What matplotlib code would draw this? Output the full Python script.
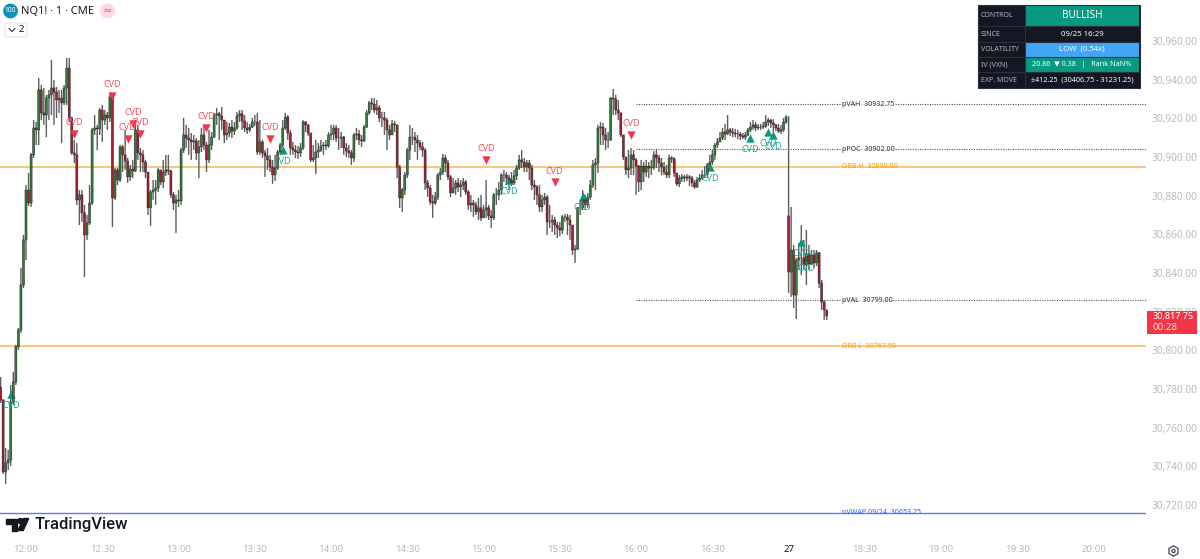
import matplotlib
matplotlib.use('Agg')
import matplotlib.pyplot as plt
from matplotlib.patches import Rectangle, Circle, Polygon, RegularPolygon, FancyBboxPatch
import numpy as np

plt.rcParams['font.family'] = ['Noto Sans', 'DejaVu Sans']

# one minute bars, first bar is 11:50, session break between index 299 and 300
first_bar = -10
first_open = 30781.0
session_open = 30869.5

closes = [
    30774.3, 30737.1, 30741.8, 30743.3, 30773.3, 30783.6, 30801.8, 30810.5, 30833.8, 30857.1,
    30882.9, 30876.2, 30901.1, 30915.0, 30914.0, 30934.7, 30922.8, 30921.7, 30930.5, 30932.1,
    30935.7, 30933.6, 30929.5, 30930.5, 30928.0, 30935.7, 30946.0, 30920.2, 30902.1, 30901.1,
    30877.8, 30880.4, 30871.1, 30859.7, 30865.9, 30876.2, 30914.0, 30915.0, 30914.5, 30924.3,
    30919.1, 30921.7, 30920.2, 30931.0, 30878.8, 30893.3, 30888.1, 30905.2, 30901.1, 30897.9,
    30889.7, 30893.8, 30892.8, 30914.0, 30902.1, 30901.1, 30897.4, 30892.2, 30873.7, 30881.9,
    30882.9, 30884.0, 30893.3, 30887.1, 30892.2, 30893.3, 30892.8, 30880.4, 30876.2, 30877.8,
    30877.3, 30903.6, 30911.4, 30909.8, 30908.8, 30907.8, 30908.3, 30902.1, 30905.2, 30911.4,
    30906.2, 30898.5, 30906.2, 30910.3, 30921.7, 30922.3, 30921.2, 30919.1, 30911.4, 30912.4,
    30915.5, 30913.4, 30915.0, 30921.2, 30922.3, 30918.6, 30915.0, 30914.0, 30915.5, 30918.1,
    30918.1, 30902.6, 30907.8, 30902.1, 30900.5, 30898.5, 30894.8, 30890.7, 30894.3, 30902.6,
    30906.2, 30915.0, 30920.7, 30912.4, 30904.7, 30903.6, 30902.6, 30902.1, 30904.7, 30918.1,
    30916.6, 30912.4, 30898.5, 30899.5, 30902.6, 30903.6, 30905.7, 30906.2, 30905.7, 30911.4,
    30911.9, 30915.0, 30909.8, 30909.8, 30910.3, 30904.7, 30903.1, 30902.1, 30899.5, 30911.4,
    30911.9, 30908.8, 30908.3, 30915.5, 30922.8, 30928.0, 30927.4, 30924.3, 30925.4, 30920.2,
    30920.2, 30919.1, 30914.0, 30911.4, 30917.1, 30916.6, 30894.8, 30878.8, 30882.9, 30890.7,
    30903.6, 30910.3, 30910.3, 30908.8, 30907.2, 30905.2, 30903.6, 30886.6, 30884.0, 30876.8,
    30876.2, 30879.3, 30890.7, 30892.2, 30899.5, 30896.9, 30889.7, 30881.4, 30884.0, 30886.6,
    30884.5, 30885.5, 30887.1, 30881.9, 30875.2, 30876.2, 30875.2, 30871.6, 30873.7, 30868.5,
    30872.6, 30873.7, 30869.5, 30868.5, 30880.4, 30880.4, 30882.9, 30890.7, 30890.7, 30889.1,
    30888.1, 30886.6, 30890.2, 30894.3, 30898.5, 30897.4, 30894.8, 30896.9, 30894.3, 30885.5,
    30884.5, 30880.4, 30874.2, 30877.8, 30879.3, 30866.4, 30866.4, 30867.4, 30864.8, 30863.3,
    30862.2, 30869.0, 30869.0, 30867.4, 30864.8, 30851.9, 30852.4, 30873.7, 30873.7, 30877.8,
    30875.2, 30879.3, 30885.5, 30895.9, 30896.9, 30915.0, 30915.5, 30911.4, 30908.8, 30908.8,
    30930.5, 30930.0, 30924.3, 30922.8, 30911.4, 30900.0, 30893.3, 30894.3, 30901.1, 30898.5,
    30895.3, 30887.1, 30895.3, 30892.2, 30895.3, 30894.3, 30894.8, 30901.1, 30899.5, 30896.9,
    30894.8, 30892.2, 30890.7, 30899.5, 30899.0, 30891.7, 30886.1, 30889.1, 30889.7, 30889.1,
    30889.7, 30889.1, 30886.6, 30884.5, 30888.1, 30889.1, 30890.7, 30890.7, 30895.9, 30897.4,
    30901.1, 30906.2, 30907.8, 30909.8, 30912.9, 30911.9, 30914.0, 30912.9, 30912.4, 30911.9,
    30911.9, 30910.9, 30910.3, 30911.4, 30914.0, 30915.5, 30916.6, 30915.0, 30915.5, 30915.5,
    30916.0, 30918.1, 30919.1, 30917.6, 30916.6, 30915.0, 30913.4, 30914.0, 30918.1, 30920.7,
    30840.5, 30851.9, 30828.6, 30846.7, 30847.8, 30847.8, 30844.1, 30849.9, 30844.7, 30849.3,
    30845.2, 30850.4, 30834.8, 30825.0, 30820.9, 30817.75,
]

highs = [
    30786.2, 30774.8, 30749.5, 30748.5, 30782.1, 30788.8, 30802.8, 30811.6, 30842.6, 30859.7,
    30885.5, 30891.7, 30902.1, 30919.1, 30918.1, 30940.9, 30937.2, 30935.7, 30932.1, 30934.7,
    30950.2, 30939.8, 30936.2, 30934.7, 30934.7, 30937.2, 30951.2, 30951.2, 30920.7, 30908.8,
    30907.2, 30882.9, 30882.9, 30875.2, 30870.0, 30885.5, 30915.0, 30921.7, 30916.6, 30925.4,
    30926.9, 30924.3, 30923.3, 30932.1, 30932.1, 30894.3, 30894.3, 30906.2, 30906.2, 30914.0,
    30899.5, 30895.9, 30898.5, 30919.1, 30916.6, 30904.7, 30903.6, 30898.5, 30892.2, 30882.9,
    30888.1, 30888.1, 30894.3, 30893.3, 30898.5, 30901.1, 30901.1, 30893.3, 30881.9, 30880.4,
    30882.9, 30904.7, 30920.2, 30916.6, 30915.0, 30912.4, 30911.4, 30909.8, 30908.8, 30915.0,
    30916.6, 30907.8, 30914.0, 30912.9, 30922.8, 30925.4, 30923.3, 30925.9, 30919.1, 30918.1,
    30917.6, 30919.1, 30918.1, 30923.3, 30924.3, 30924.3, 30921.7, 30918.1, 30917.1, 30920.2,
    30921.7, 30922.8, 30919.1, 30908.8, 30903.6, 30904.7, 30901.1, 30898.5, 30901.1, 30903.6,
    30907.2, 30919.1, 30922.8, 30921.7, 30914.0, 30907.8, 30906.2, 30905.7, 30907.2, 30919.1,
    30918.6, 30917.1, 30912.4, 30906.2, 30908.8, 30907.2, 30908.8, 30907.8, 30908.8, 30912.9,
    30916.6, 30916.6, 30916.6, 30915.0, 30912.9, 30910.9, 30907.2, 30906.2, 30903.6, 30912.4,
    30915.0, 30914.0, 30911.4, 30916.6, 30924.3, 30929.0, 30930.5, 30930.5, 30929.5, 30926.9,
    30923.3, 30923.3, 30920.2, 30916.6, 30919.1, 30918.6, 30916.6, 30895.9, 30884.0, 30892.2,
    30904.7, 30916.6, 30915.0, 30912.9, 30911.4, 30908.8, 30907.8, 30904.7, 30888.1, 30885.5,
    30880.4, 30881.9, 30891.7, 30894.3, 30901.6, 30901.1, 30898.5, 30890.7, 30889.1, 30888.1,
    30889.1, 30888.1, 30889.1, 30888.1, 30882.9, 30880.4, 30877.8, 30876.8, 30878.8, 30880.4,
    30875.2, 30888.1, 30875.2, 30872.6, 30881.4, 30884.0, 30887.1, 30891.7, 30893.3, 30892.2,
    30890.7, 30892.2, 30893.3, 30895.9, 30901.1, 30903.6, 30899.5, 30898.5, 30898.5, 30895.9,
    30888.1, 30885.5, 30885.5, 30880.4, 30881.4, 30880.4, 30875.2, 30870.0, 30869.0, 30866.4,
    30866.4, 30870.0, 30870.6, 30870.6, 30870.0, 30864.8, 30854.5, 30874.2, 30877.8, 30882.9,
    30880.4, 30881.4, 30888.1, 30898.5, 30899.5, 30916.6, 30918.1, 30917.6, 30915.0, 30912.9,
    30931.0, 30935.2, 30932.1, 30929.5, 30922.8, 30911.4, 30900.0, 30903.6, 30904.7, 30903.6,
    30899.5, 30895.9, 30898.5, 30897.4, 30898.5, 30897.4, 30898.5, 30903.1, 30903.6, 30901.1,
    30899.5, 30897.4, 30895.9, 30901.1, 30900.5, 30900.0, 30891.7, 30890.7, 30891.2, 30890.7,
    30891.2, 30890.7, 30890.2, 30888.1, 30889.7, 30891.2, 30893.3, 30895.3, 30896.9, 30901.1,
    30903.6, 30907.2, 30909.8, 30912.9, 30915.0, 30917.1, 30921.7, 30915.0, 30915.0, 30914.5,
    30914.0, 30912.9, 30912.4, 30912.9, 30915.0, 30918.1, 30919.1, 30918.1, 30917.1, 30917.1,
    30918.1, 30921.7, 30920.2, 30919.6, 30919.6, 30917.1, 30917.1, 30916.6, 30920.2, 30921.7,
    30921.2, 30874.2, 30854.5, 30847.8, 30855.5, 30864.8, 30857.1, 30862.2, 30854.5, 30851.9,
    30851.9, 30851.9, 30850.9, 30836.4, 30826.0, 30820.4,
]

lows = [
    30772.8, 30736.0, 30730.9, 30738.1, 30740.2, 30771.7, 30782.1, 30800.2, 30809.0, 30832.2,
    30846.7, 30874.7, 30874.2, 30899.5, 30906.2, 30906.2, 30919.1, 30916.6, 30910.3, 30919.1,
    30921.7, 30916.6, 30920.2, 30922.8, 30907.2, 30926.9, 30926.9, 30918.1, 30901.1, 30896.9,
    30875.2, 30864.8, 30866.4, 30837.9, 30857.1, 30864.8, 30875.2, 30911.4, 30903.6, 30911.4,
    30907.8, 30916.6, 30914.0, 30918.1, 30863.8, 30877.8, 30885.5, 30887.1, 30892.2, 30893.3,
    30886.6, 30887.6, 30889.1, 30892.2, 30898.5, 30892.2, 30892.2, 30889.1, 30870.0, 30864.3,
    30877.8, 30875.2, 30881.9, 30885.5, 30884.0, 30890.2, 30890.7, 30878.8, 30872.6, 30860.7,
    30874.2, 30875.2, 30902.1, 30904.7, 30901.1, 30898.5, 30903.6, 30898.5, 30889.1, 30902.6,
    30903.6, 30892.2, 30896.9, 30903.6, 30909.8, 30916.6, 30908.8, 30914.0, 30907.2, 30908.8,
    30910.3, 30909.8, 30911.4, 30914.0, 30918.1, 30914.0, 30912.9, 30911.9, 30912.9, 30915.0,
    30916.0, 30901.1, 30901.1, 30899.5, 30889.7, 30893.3, 30892.2, 30886.1, 30887.6, 30893.3,
    30901.1, 30904.7, 30914.0, 30908.8, 30901.1, 30901.1, 30899.5, 30899.0, 30900.0, 30903.6,
    30912.9, 30910.9, 30897.4, 30897.4, 30891.2, 30899.5, 30902.6, 30901.1, 30903.6, 30904.7,
    30908.8, 30908.8, 30907.8, 30903.6, 30904.7, 30901.1, 30900.0, 30899.5, 30895.9, 30897.4,
    30908.8, 30906.2, 30905.2, 30907.8, 30915.0, 30921.7, 30924.3, 30922.8, 30921.7, 30918.1,
    30915.5, 30911.4, 30903.6, 30908.8, 30915.0, 30912.9, 30889.1, 30873.7, 30871.6, 30880.4,
    30889.1, 30898.5, 30906.2, 30902.6, 30898.5, 30903.6, 30900.0, 30882.9, 30879.3, 30875.2,
    30868.5, 30875.2, 30877.8, 30888.1, 30890.7, 30892.2, 30888.1, 30879.3, 30881.4, 30880.4,
    30881.9, 30879.3, 30882.9, 30880.4, 30872.6, 30871.6, 30869.0, 30870.0, 30867.4, 30866.9,
    30868.5, 30868.5, 30867.4, 30863.3, 30867.4, 30875.2, 30877.8, 30880.4, 30887.1, 30885.5,
    30882.9, 30885.0, 30885.5, 30888.1, 30893.3, 30894.3, 30892.2, 30892.2, 30888.1, 30882.9,
    30877.8, 30875.2, 30871.6, 30871.6, 30875.2, 30859.7, 30863.3, 30861.2, 30859.7, 30858.1,
    30859.1, 30860.2, 30866.4, 30859.7, 30857.1, 30849.3, 30845.2, 30851.9, 30870.0, 30872.6,
    30872.6, 30873.7, 30877.8, 30884.0, 30882.9, 30891.7, 30906.2, 30906.2, 30903.6, 30904.7,
    30908.3, 30921.7, 30921.7, 30919.1, 30910.3, 30898.5, 30890.7, 30889.1, 30890.7, 30890.7,
    30880.4, 30881.9, 30882.9, 30887.1, 30889.7, 30889.1, 30890.7, 30893.3, 30894.3, 30892.2,
    30890.7, 30890.7, 30889.1, 30889.1, 30896.9, 30889.7, 30885.0, 30884.5, 30887.1, 30887.1,
    30887.6, 30885.0, 30884.5, 30883.5, 30884.0, 30887.1, 30888.1, 30889.1, 30889.1, 30893.3,
    30895.9, 30898.5, 30904.7, 30907.8, 30908.8, 30908.8, 30911.4, 30910.9, 30910.3, 30910.3,
    30909.3, 30908.8, 30909.3, 30908.8, 30910.9, 30912.9, 30914.0, 30913.4, 30914.0, 30914.0,
    30914.5, 30915.0, 30916.0, 30915.0, 30912.9, 30913.4, 30912.4, 30911.9, 30912.9, 30917.1,
    30829.7, 30827.6, 30821.9, 30816.2, 30841.6, 30839.0, 30841.6, 30833.8, 30841.6, 30844.1,
    30842.6, 30843.6, 30832.2, 30820.9, 30815.7, 30815.7,
]

# CVD signals, bar index and price of the triangle
cvd_down_idx = [19, 34, 40, 42, 45, 71, 96, 181, 208, 238]
cvd_down_px = [30911.9, 30931.6, 30909.3, 30917.1, 30911.9, 30915.0, 30909.3, 30898.4, 30887.0, 30911.4]
cvd_up_idx = [-6, 101, 190, 219, 269, 285, 292, 294, 305, 307]
cvd_up_px = [30777.4, 30903.6, 30888.1, 30879.8, 30894.8, 30909.8, 30912.9, 30911.4, 30856.0, 30848.3]

y_ticks = list(range(30720, 30961, 20))
x_tick_idx = [0, 30, 60, 90, 120, 150, 180, 210, 240, 270, 300, 330, 360, 390, 420]
x_tick_lbl = ['12:00', '12:30', '13:00', '13:30', '14:00', '14:30', '15:00', '15:30', '16:00',
              '16:30', '27', '18:30', '19:00', '19:30', '20:00']

# levels as they sit on the chart and the text printed next to them
orb_levels = [30895.0, 30802.0]
orb_labels = ['ORB H  30890.00', 'ORB L  30767.50']
dot_levels = [30927.2, 30904.0, 30826.0]
dot_labels = ['pVAH  30932.75', 'pPOC  30902.00', 'pVAL  30799.00']
vwap_level = 30716.0
vwap_label = 'nVWAP 09/24  30653.25'

table_rows = ['CONTROL', 'SINCE', 'VOLATILITY', 'IV (VXN)', 'EXP. MOVE']
table_vals = ['BULLISH', '09/25 16:29', 'LOW  (0.54x)', '20.86  \u25bc 0.38   |   Rank NaN%',
              '\u00b1412.25  (30406.75 - 31231.25)']

GREEN = '#2f8038'
RED = '#a61c30'
AXIS_GREY = '#b8bac0'

fig = plt.figure(figsize=(12, 5.59), dpi=100)
ax = fig.add_axes([0, 19 / 559, 1146 / 1200, 540 / 559])
ax.set_xlim(-10.23, 440.6)
ax.set_ylim(30701.9, 30981.2)

idx = np.arange(first_bar, first_bar + len(closes))
c = np.array(closes)
o = np.r_[first_open, c[:-1]]
o[idx == 300] = session_open
up = c >= o

ax.vlines(idx, lows, highs, color='#5c5c5c', lw=1.0, zorder=3, snap=False)
ax.bar(idx[up], (c - o)[up], bottom=o[up], width=0.8, color=GREEN, edgecolor='#262626', lw=0.35,
       zorder=4, snap=False)
ax.bar(idx[~up], (c - o)[~up], bottom=o[~up], width=0.8, color=RED, edgecolor='#262626', lw=0.35,
       zorder=4, snap=False)

for lvl, txt in zip(orb_levels, orb_labels):
    ax.axhline(lvl, color='#fbc57c', lw=1.4, zorder=2)
    ax.annotate(txt, (321, lvl), color='#ff9800', fontsize=5.1, va='center', zorder=6)
for lvl, txt in zip(dot_levels, dot_labels):
    ax.hlines(lvl, 240, 440.6, color='#555555', lw=0.8, linestyles=(0, (1, 1.2)), zorder=2)
    ax.annotate(txt, (321, lvl), color='#333333', fontsize=5.1, va='center', zorder=6,
                bbox=dict(fc='white', ec='none', pad=0.4, alpha=0.6))
ax.axhline(vwap_level, color='#5f7fdc', lw=1.0, zorder=2)
ax.annotate(vwap_label, (321, vwap_level), color='#2962ff', fontsize=5.1, va='center', zorder=6)

ax.scatter(cvd_down_idx, cvd_down_px, marker='v', s=36, color='#f23645', lw=0, zorder=5)
for i, p in zip(cvd_down_idx, cvd_down_px):
    ax.annotate('CVD', (i, p), xytext=(0, 8), textcoords='offset points', ha='center', va='center',
                color='#f7525f', fontsize=6.5, zorder=5)
ax.scatter(cvd_up_idx, cvd_up_px, marker='^', s=36, color='#089981', lw=0, zorder=3.5)
for i, p in zip(cvd_up_idx, cvd_up_px):
    ax.annotate('CVD', (i, p), xytext=(0, -8.3), textcoords='offset points', ha='center', va='center',
                color='#22ab94', fontsize=6.5, zorder=5)

for s in ax.spines.values():
    s.set_visible(False)
ax.yaxis.tick_right()
ax.set_yticks(y_ticks)
ax.set_yticklabels([f'{v:,.2f}' for v in y_ticks], color=AXIS_GREY, fontsize=7.3)
ax.set_xticks(x_tick_idx)
ax.set_xticklabels(x_tick_lbl, color=AXIS_GREY, fontsize=7.0)
ax.get_xticklabels()[10].set_color('#131722')
ax.get_xticklabels()[10].set_fontweight('bold')
ax.tick_params(axis='y', length=0, pad=4)
ax.tick_params(axis='x', length=0, pad=3.7)

# overlay in pixels for the tradingview chrome
top = fig.add_axes([0, 0, 1, 1], zorder=10)
top.set_xlim(0, 1200)
top.set_ylim(559, 0)
top.axis('off')

# header
top.add_patch(Circle((10.5, 11), 6.7, color='#0f91b8'))
top.text(10.5, 11, '100', color='white', fontsize=4.8, ha='center', va='center')
top.text(21, 11, 'NQ1! \u00b7 1 \u00b7 CME', color='#131722', fontsize=8.0, va='center')
top.add_patch(Circle((107.5, 11), 6.8, color='#fbd9e5'))
top.text(107.5, 11, '\u2248', color='#f0508c', fontsize=8, ha='center', va='center')
top.add_patch(FancyBboxPatch((5, 23), 22, 14, boxstyle='round,pad=0,rounding_size=2', fc='white',
                             ec='#e0e3eb', lw=0.8))
top.plot([9, 12, 15], [28.5, 31.5, 28.5], color='#131722', lw=0.7)
top.text(21, 30, '2', color='#131722', fontsize=7, ha='center', va='center')

# status table
row_tops = [5, 26, 42, 57, 72]
row_bots = [26, 42, 57, 72, 88]
row_fill = ['#089981', '#131722', '#42a5f5', '#089981', '#131722']
row_size = [7.2, 5.6, 5.6, 5.2, 5.2]
top.add_patch(Rectangle((977.5, 5), 162, 83, fc='#131722', ec='#2a3040', lw=0.8))
for r in range(5):
    top.add_patch(Rectangle((1025, row_tops[r] + 0.5), 114, row_bots[r] - row_tops[r] - 1, fc=row_fill[r], ec='none'))
    if r:
        top.plot([978, 1139], [row_tops[r]] * 2, color='#2a3040', lw=0.8)
    top.text(981, (row_tops[r] + row_bots[r]) / 2, table_rows[r], color='#b2b5be', fontsize=5.1, va='center')
    top.text(1082, (row_tops[r] + row_bots[r]) / 2, table_vals[r], color='white', fontsize=row_size[r],
             ha='center', va='center', fontweight='bold')
top.plot([1024.5, 1024.5], [5, 88], color='#2a3040', lw=0.8)

# last price tag
top.add_patch(Rectangle((1147, 311), 50, 22.5, fc='#f23645', ec='none'))
top.text(1152.5, 316.8, '30,817.75', color='white', fontsize=6.5, va='center', fontweight='bold')
top.text(1152.5, 327, '00:28', color='#ffe0e3', fontsize=7.0, va='center')

# logo
top.add_patch(Polygon([(6, 518.5), (17, 518.5), (17, 530.5), (11.5, 530.5), (11.5, 523.5), (6, 523.5)],
                      color='#131722'))
top.add_patch(Circle((20.3, 521), 2.5, color='#131722'))
top.add_patch(Polygon([(28.7, 518.5), (23.5, 518.5), (18, 530.5), (23.2, 530.5)], color='#131722'))
top.text(35, 525, 'TradingView', color='#131722', fontsize=12, va='center', family='Roboto', fontweight='medium')

# settings icon
top.add_patch(RegularPolygon((1173.5, 551), 6, radius=5.2, fc='none', ec='#434651', lw=0.9))
top.add_patch(Circle((1173.5, 551), 1.6, fc='none', ec='#434651', lw=0.9))

fig.savefig('out.png', dpi=100)
